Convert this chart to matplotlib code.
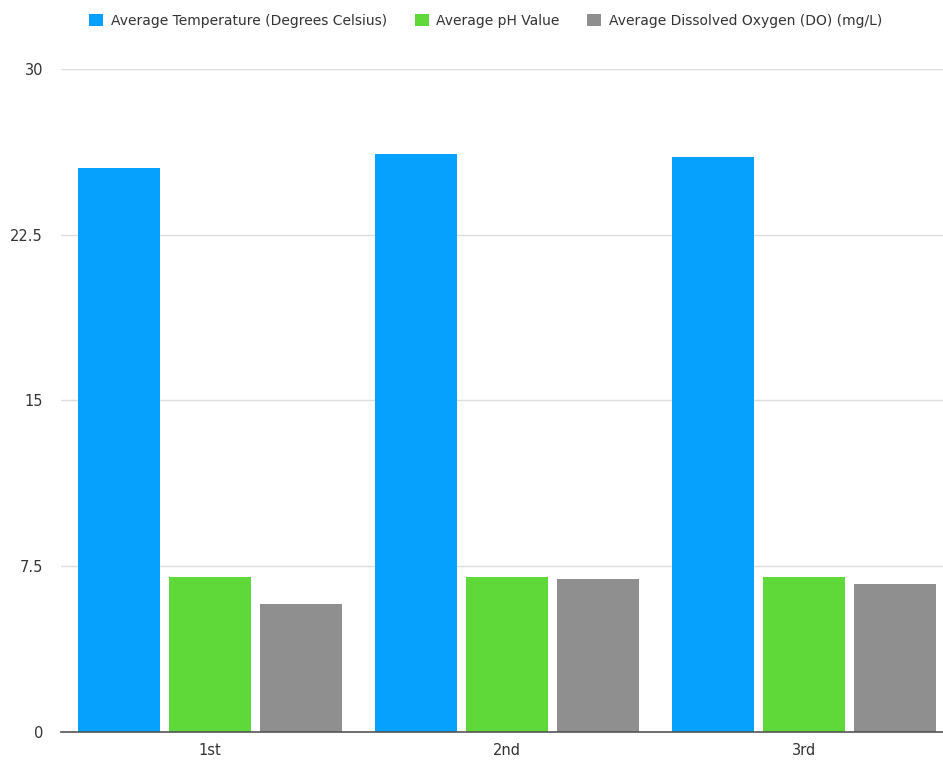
import numpy as np
import matplotlib
matplotlib.use("Agg")
import matplotlib.pyplot as plt

# Data
categories = ["1st", "2nd", "3rd"]
temperature = [25.5, 26.15, 26.0]
ph_value = [7.0, 7.0, 7.0]
dissolved_oxygen = [5.8, 6.9, 6.7]
series_names = [
    "Average Temperature (Degrees Celsius)",
    "Average pH Value",
    "Average Dissolved Oxygen (DO) (mg/L)",
]
y_ticks = [0, 7.5, 15, 22.5, 30]
y_tick_labels = ["0", "7.5", "15", "22.5", "30"]

colors = ["#06a0fd", "#5fd83a", "#8f8f8f"]

plt.rcParams["font.family"] = ["DejaVu Sans"]

fig = plt.figure(figsize=(9.43, 7.61), dpi=100)
ax = fig.add_axes([0.0647, 0.0385, 0.9353, 0.8708])

x = np.arange(len(categories))
width = 0.276
offset = 0.306
series = [temperature, ph_value, dissolved_oxygen]
for i, (vals, name, c) in enumerate(zip(series, series_names, colors)):
    ax.bar(x + (i - 1) * offset, vals, width, color=c, label=name, zorder=3)

ax.set_xlim(-0.502, 2.468)
ax.set_ylim(0, 30)
ax.set_yticks(y_ticks)
ax.set_yticklabels(y_tick_labels)
ax.set_xticks(x)
ax.set_xticklabels(categories)
ax.tick_params(axis="both", length=0, labelsize=10.5, colors="#333333")
ax.tick_params(axis="y", pad=13)
ax.tick_params(axis="x", pad=8)

ax.grid(axis="y", color="#dddddd", linewidth=1, zorder=0)
for side in ["top", "right", "left"]:
    ax.spines[side].set_visible(False)
ax.spines["bottom"].set_color("#555555")
ax.spines["bottom"].set_linewidth(1.2)
ax.spines["bottom"].set_zorder(4)

fig.legend(loc="upper center", bbox_to_anchor=(0.515, 0.998), ncol=3, frameon=False,
           fontsize=10, handlelength=1.0, handleheight=1.0, handletextpad=0.55,
           columnspacing=2.0, labelcolor="#333333")

fig.savefig("out.png", dpi=100)
